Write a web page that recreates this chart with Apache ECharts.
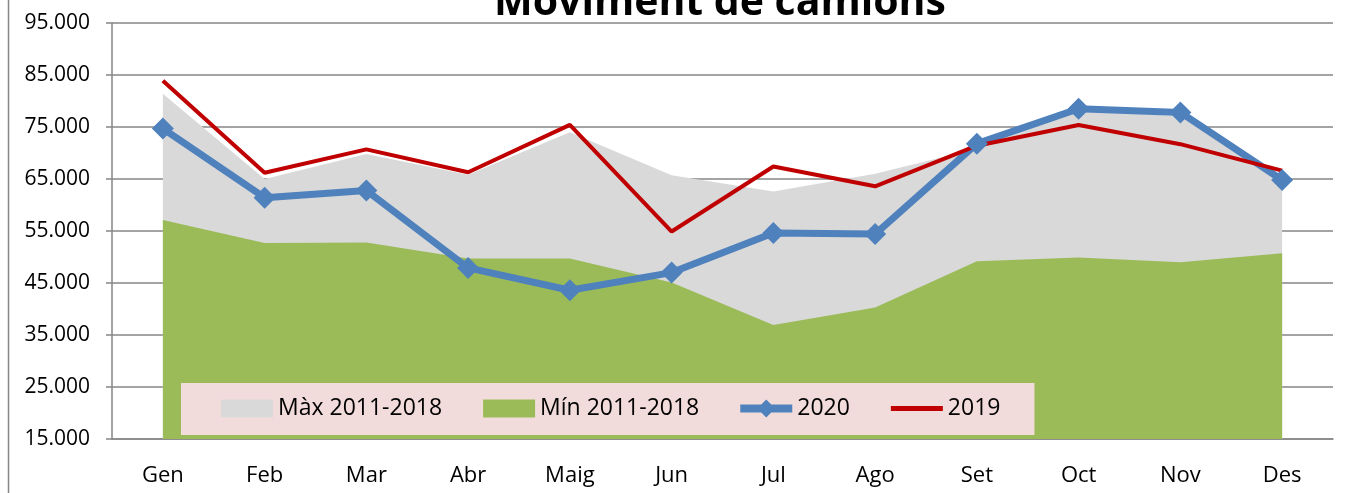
<!DOCTYPE html>
<html lang="ca">
<head>
    <meta charset="UTF-8">
    <title>Moviment de camions</title>
    <script src="https://cdn.jsdelivr.net/npm/echarts@6/dist/echarts.min.js"></script>
    <style>
        html, body { margin: 0; padding: 0; background: #fff; }
        #main { width: 1345px; height: 493px; }
    </style>
</head>
<body>
    <div id="main"></div>
    <script>
        // dades llegides del gràfic
        const mesos = ['Gen', 'Feb', 'Mar', 'Abr', 'Maig', 'Jun', 'Jul', 'Ago', 'Set', 'Oct', 'Nov', 'Des'];
        const max20112018 = [81400, 65000, 69800, 65800, 74000, 65700, 62600, 66000, 70800, 78300, 77000, 64800];
        const min20112018 = [57100, 52700, 52800, 49700, 49700, 45100, 36900, 40300, 49200, 49900, 49000, 50700];
        const any2020 = [74700, 61400, 62800, 47900, 43600, 47000, 54600, 54400, 71800, 78500, 77800, 64800];
        const any2019 = [83900, 66200, 70700, 66300, 75400, 54900, 67400, 63600, 71400, 75400, 71700, 66600];

        const font = '"Open Sans", "DejaVu Sans", sans-serif';
        const gris = '#868686';

        // icones de la llegenda (rectangle, línia amb rombe, línia)
        const iconRect = 'path://M0,0H52V18H0Z';
        const iconRombe = 'path://M0,5H52V13H0Z M26,0L35,9L26,18L17,9Z';
        const iconLinia = 'path://M0,0H52V5H0Z';

        const chart = echarts.init(document.getElementById('main'));
        chart.setOption({
            animation: false,
            textStyle: { fontFamily: font },
            graphic: [
                {
                    type: 'text', x: 720, y: 3,
                    style: {
                        text: 'Moviment de camions', x: 0, y: 0,
                        font: 'bold 41px ' + font, fill: '#000',
                        align: 'center', verticalAlign: 'middle'
                    }
                },
                {
                    type: 'line', shape: { x1: 8.5, y1: 0, x2: 8.5, y2: 493 },
                    style: { stroke: gris, lineWidth: 1.5 }
                }
            ],
            grid: { left: 112, right: 12, top: 23, bottom: 54 },
            legend: {
                left: 181, top: 383,
                backgroundColor: '#f2dcdb',
                padding: [14, 34, 15, 40],
                itemGap: 41, itemWidth: 52, itemHeight: 18,
                textStyle: { fontSize: 23, color: '#000', fontFamily: font },
                data: [
                    { name: 'Màx 2011-2018', icon: iconRect },
                    { name: 'Mín 2011-2018', icon: iconRect },
                    { name: '2020', icon: iconRombe },
                    { name: '2019', icon: iconLinia }
                ]
            },
            xAxis: {
                type: 'category',
                data: mesos,
                boundaryGap: true,
                axisLine: { lineStyle: { color: gris, width: 1.5 } },
                axisTick: { length: 6, lineStyle: { color: gris, width: 1.5 } },
                axisLabel: { fontSize: 22, color: '#000', margin: 26 }
            },
            yAxis: {
                type: 'value',
                min: 15000, max: 95000, interval: 10000,
                axisLine: { show: true, lineStyle: { color: gris, width: 1.5 } },
                axisTick: { show: true, length: 6, lineStyle: { color: gris, width: 1.5 } },
                splitLine: { lineStyle: { color: gris, width: 1.5 } },
                axisLabel: {
                    fontSize: 21, color: '#000', margin: 22,
                    formatter: v => String(v).replace(/(\d)(?=(\d{3})+$)/g, '$1.')
                }
            },
            series: [
                {
                    name: 'Màx 2011-2018', type: 'line', data: max20112018,
                    symbol: 'none', lineStyle: { width: 0 },
                    itemStyle: { color: '#d9d9d9' },
                    areaStyle: { color: '#d9d9d9', opacity: 1 }
                },
                {
                    name: 'Mín 2011-2018', type: 'line', data: min20112018,
                    symbol: 'none', lineStyle: { width: 0 },
                    itemStyle: { color: '#9bbb59' },
                    areaStyle: { color: '#9bbb59', opacity: 1 }
                },
                {
                    name: '2020', type: 'line', data: any2020,
                    symbol: 'diamond', symbolSize: 22,
                    lineStyle: { color: '#4f81bd', width: 7 },
                    itemStyle: { color: '#4f81bd' }
                },
                {
                    name: '2019', type: 'line', data: any2019,
                    symbol: 'none',
                    lineStyle: { color: '#c00000', width: 4 },
                    itemStyle: { color: '#c00000' }
                }
            ]
        });
    </script>
</body>
</html>
